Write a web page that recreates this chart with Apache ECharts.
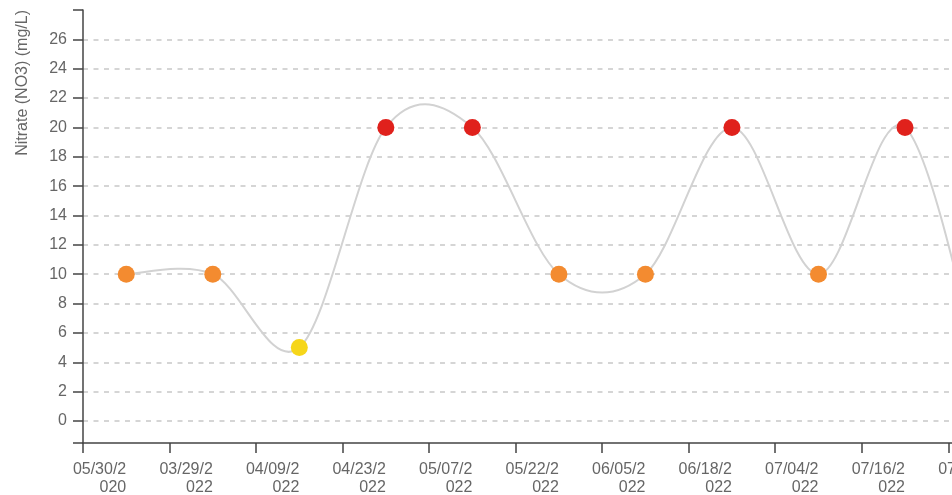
<!DOCTYPE html>
<html><head><meta charset="utf-8">
<script src="https://cdn.jsdelivr.net/npm/echarts@6/dist/echarts.min.js"></script>
<style>html,body{margin:0;padding:0;background:#fff}#c{width:952px;height:495px}</style>
</head><body><div id="c"></div>
<script>
// ---- data ----
const dates = ['05/30/2020','03/29/2022','04/09/2022','04/23/2022','05/07/2022','05/22/2022','06/05/2022','06/18/2022','07/04/2022','07/16/2022','07/30/2022'];
const nitrate = [10, 10, 5, 20, 20, 10, 10, 20, 10, 20, 0];
const yTickValues = [0, 2, 4, 6, 8, 10, 12, 14, 16, 18, 20, 22, 24, 26];
const yMin = -1.5, yMax = 28;
const yName = 'Nitrate (NO3) (mg/L)';

function pointColor(v) {
  if (v >= 20) return '#e0211c';
  if (v >= 10) return '#f38b30';
  return '#f6d61a';
}

const FONT = 'Liberation Sans, Arial, sans-serif';
const TEXT = '#666';
const AXIS = '#444';

const chart = echarts.init(document.getElementById('c'), null, {renderer: 'canvas'});
chart.setOption({
  animation: false,
  grid: {left: 83, right: -82.8, top: 10, bottom: 52, containLabel: false, outerBoundsMode: 'none'},
  xAxis: {
    type: 'category',
    data: dates,
    boundaryGap: true,
    axisLine: {show: true, onZero: false, lineStyle: {color: AXIS, width: 1.5}},
    axisTick: {show: true, length: 10, alignWithLabel: false, interval: 0, lineStyle: {color: AXIS, width: 1.5}},
    axisLabel: {
      interval: 0, align: 'right', margin: 18, fontSize: 16, lineHeight: 18,
      fontFamily: FONT, color: TEXT, hideOverlap: false,
      formatter: d => d.slice(0, 7) + '\n' + d.slice(7)
    },
    splitLine: {show: false}
  },
  yAxis: {
    type: 'value',
    min: yMin, max: yMax,
    axisLine: {show: true, onZero: false, lineStyle: {color: AXIS, width: 1.5}},
    axisTick: {show: true, length: 10, customValues: [yMin].concat(yTickValues, [yMax]), lineStyle: {color: AXIS, width: 1.5}},
    axisLabel: {customValues: yTickValues, margin: 16, fontSize: 16, fontFamily: FONT, color: TEXT},
    splitLine: {show: true, showMinLine: false, showMaxLine: false, lineStyle: {color: '#c8c8c8', width: 1.5, type: [5, 5.5]}}
  },
  graphic: [{
    type: 'text', x: 23, y: 10, rotation: Math.PI / 2,
    style: {text: yName, font: '16px ' + FONT, fill: TEXT, textAlign: 'right', textVerticalAlign: 'middle', align: 'right', verticalAlign: 'middle'}
  }],
  series: [
    {
      type: 'custom',
      coordinateSystem: 'cartesian2d',
      data: nitrate.map((v, i) => [i, v]),
      encode: {x: 0, y: 1},
      silent: true,
      z: 1,
      renderItem: function (params, api) {
        const i = params.dataIndex;
        const n = nitrate.length;
        if (i >= n - 1) return null;
        const P = k => { const j = Math.max(0, Math.min(n - 1, k)); return api.coord([j, nitrate[j]]); };
        const p0 = P(i - 1), p1 = P(i), p2 = P(i + 1), p3 = P(i + 2);
        return {
          type: 'bezierCurve',
          shape: {
            x1: p1[0], y1: p1[1], x2: p2[0], y2: p2[1],
            cpx1: p1[0] + (p2[0] - p0[0]) / 6, cpy1: p1[1] + (p2[1] - p0[1]) / 6,
            cpx2: p2[0] - (p3[0] - p1[0]) / 6, cpy2: p2[1] - (p3[1] - p1[1]) / 6
          },
          style: {fill: null, stroke: '#d2d2d2', lineWidth: 2}
        };
      }
    },
    {
      type: 'scatter',
      data: nitrate.map((v, i) => [i, v]),
      symbolSize: 17,
      z: 3,
      itemStyle: {color: p => pointColor(p.value[1]), opacity: 1}
    }
  ]
});
</script>
</body></html>
